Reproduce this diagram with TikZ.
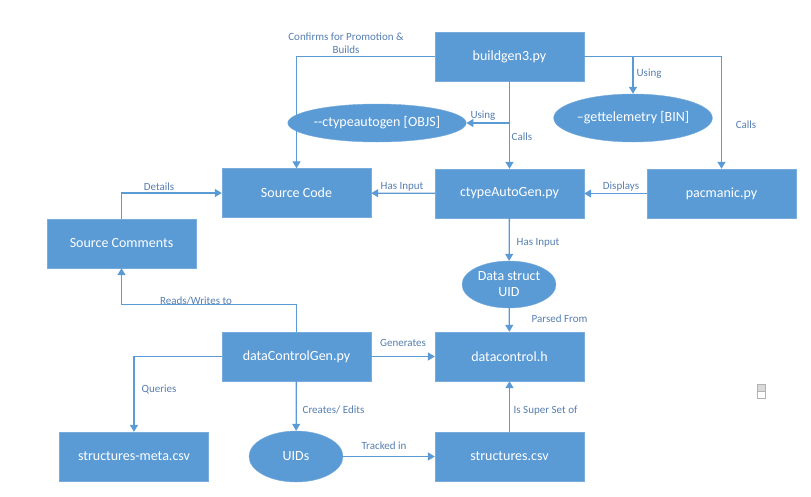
\documentclass[tikz,border=0pt]{standalone}
\usepackage{fontspec}
\setmainfont{Carlito}
\usepackage{xcolor}
\usetikzlibrary{shapes.geometric, arrows.meta, positioning}

\definecolor{boxblue}{RGB}{91,155,213}
\definecolor{boxedge}{RGB}{120,172,220}
\definecolor{lineblue}{RGB}{91,155,213}
\definecolor{labelblue}{RGB}{86,126,176}

\begin{document}
\begin{tikzpicture}[x=1pt, y=-1pt,
    box/.style={draw=boxedge, fill=boxblue, text=white, minimum width=149pt, minimum height=49pt, inner sep=0pt, font=\fontsize{14}{16}\selectfont},
    oval/.style={draw=boxedge, fill=boxblue, text=white, ellipse, inner sep=0pt, align=center, font=\fontsize{14}{16}\selectfont},
    link/.style={draw=lineblue, line width=1.3pt, -{Triangle[width=8pt,length=7pt]}},
    lbl/.style={text=labelblue, inner sep=0pt, font=\fontsize{11}{13}\selectfont}
]
    \useasboundingbox (0,0) rectangle (811,496);

    % Build script and what it calls
    \node[box] (build) at (509.5,56.5) {buildgen3.py};
    \node[oval, minimum width=162pt, minimum height=38pt] (objs) at (377,123) {{-}{-}ctypeautogen [OBJS]};
    \node[oval, minimum width=150pt, minimum height=48pt] (bin) at (633,118) {–gettelemetry [BIN]};

    % Middle row
    \node[box] (srccode) at (296.5,193) {Source Code};
    \node[box] (ctype) at (509.5,193.5) {ctypeAutoGen.py};
    \node[box] (pacman) at (721.5,193.5) {pacmanic.py};
    \node[box] (srccomm) at (121.5,243.5) {Source Comments};
    \node[oval, minimum width=94pt, minimum height=47pt] (uid) at (509,284.5) {Data struct\\UID};

    % Data control row
    \node[box] (dcgen) at (296.5,356.5) {dataControlGen.py};
    \node[box] (dch) at (509.5,356.5) {datacontrol.h};

    % Bottom row
    \node[box] (smeta) at (134,456.5) {structures-meta.csv};
    \node[oval, minimum width=94pt, minimum height=51pt] (uids) at (296,456.5) {UIDs};
    \node[box] (scsv) at (509.5,456.5) {structures.csv};

    % Links from buildgen3.py
    \draw[link] (build.west) -| (srccode.north) node[lbl, align=center] at (346,43) {Confirms for Promotion \&\\Builds};
    \draw[link] (build.east) -| (pacman.north) node[lbl] at (746,125) {Calls};
    \draw[link] (bin.north |- build.east) -- (bin.north) node[lbl, anchor=west] at (636,74) {Using};
    \draw[link] (build) -- (ctype) node[lbl, anchor=west] at (511,137) {Calls};
    \draw[link] (build.south |- objs.east) -- (objs.east) node[lbl] at (483,116) {Using};

    % Middle links
    \draw[link] (ctype) -- (srccode) node[lbl] at (402,187) {Has Input};
    \draw[link] (pacman) -- (ctype) node[lbl] at (621,187) {Displays};
    \draw[link] (srccomm.north) |- (srccode.west) node[lbl] at (159,187) {Details};
    \draw[link] (ctype) -- (uid) node[lbl, anchor=west] at (516,243) {Has Input};
    \draw[link] (uid) -- (dch) node[lbl, anchor=west] at (531,319) {Parsed From};

    % Links from dataControlGen.py
    \draw[link] (dcgen.north) -- ++(0,-27) -| (srccomm.south) node[lbl] at (196,301) {Reads/Writes to};
    \draw[link] (dcgen) -- (dch) node[lbl] at (403,343) {Generates};
    \draw[link] (dcgen.west) -| (smeta.north) node[lbl, anchor=west] at (141,389) {Queries};
    \draw[link] (dcgen) -- (uids) node[lbl, anchor=west] at (302,410) {Creates/ Edits};

    % Bottom links
    \draw[link] (uids) -- (scsv) node[lbl] at (384,446) {Tracked in};
    \draw[link] (scsv) -- (dch) node[lbl, anchor=west] at (513,411) {Is Super Set of};

    % small icon at the right edge
    \draw[gray!60, fill=gray!30] (757,384) rectangle (765,391);
    \draw[gray!60] (757,391) rectangle (765,398);
\end{tikzpicture}
\end{document}
